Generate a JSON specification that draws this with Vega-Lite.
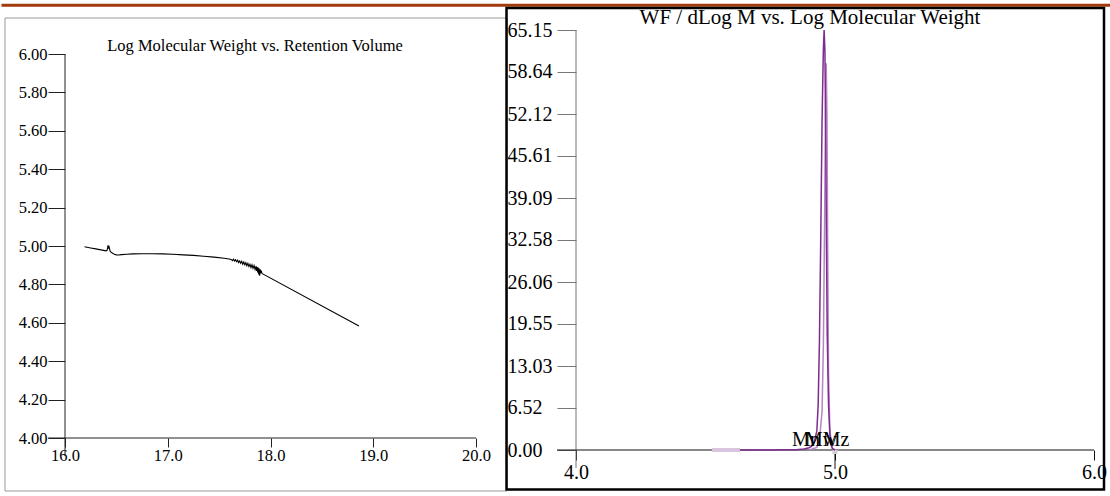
{
  "$schema": "https://vega.github.io/schema/vega-lite/v6.json",
  "background": "#ffffff",
  "padding": {"left": 0, "top": 3, "right": 0, "bottom": 0},
  "autosize": {"type": "pad"},
  "bounds": "flush",
  "spacing": 100,
  "config": {
    "view": {"stroke": null},
    "font": "Liberation Serif",
    "axis": {"grid": false, "domain": false, "labelFlush": false, "labelFont": "Liberation Serif", "labelColor": "#000000", "tickWidth": 1}
  },
  "datasets": {
    "calibration": [
      {"rv": 16.19, "logM": 4.996}, {"rv": 16.25, "logM": 4.990}, {"rv": 16.30, "logM": 4.985},
      {"rv": 16.35, "logM": 4.980}, {"rv": 16.40, "logM": 4.975}, {"rv": 16.41, "logM": 4.978},
      {"rv": 16.415, "logM": 4.992}, {"rv": 16.42, "logM": 5.004}, {"rv": 16.425, "logM": 4.986},
      {"rv": 16.43, "logM": 4.994}, {"rv": 16.44, "logM": 4.972}, {"rv": 16.46, "logM": 4.963},
      {"rv": 16.48, "logM": 4.957}, {"rv": 16.50, "logM": 4.954}, {"rv": 16.52, "logM": 4.953},
      {"rv": 16.55, "logM": 4.955}, {"rv": 16.60, "logM": 4.957}, {"rv": 16.66, "logM": 4.959},
      {"rv": 16.75, "logM": 4.960}, {"rv": 16.85, "logM": 4.960}, {"rv": 16.95, "logM": 4.959},
      {"rv": 17.05, "logM": 4.957}, {"rv": 17.15, "logM": 4.954}, {"rv": 17.25, "logM": 4.951},
      {"rv": 17.35, "logM": 4.947}, {"rv": 17.45, "logM": 4.942}, {"rv": 17.55, "logM": 4.936},
      {"rv": 17.61, "logM": 4.931}, {"rv": 17.62, "logM": 4.929}, {"rv": 17.63, "logM": 4.924},
      {"rv": 17.64, "logM": 4.931}, {"rv": 17.65, "logM": 4.922}, {"rv": 17.66, "logM": 4.928},
      {"rv": 17.67, "logM": 4.918}, {"rv": 17.68, "logM": 4.926}, {"rv": 17.69, "logM": 4.914},
      {"rv": 17.70, "logM": 4.922}, {"rv": 17.71, "logM": 4.910}, {"rv": 17.72, "logM": 4.920},
      {"rv": 17.73, "logM": 4.905}, {"rv": 17.74, "logM": 4.917}, {"rv": 17.75, "logM": 4.902},
      {"rv": 17.76, "logM": 4.913}, {"rv": 17.77, "logM": 4.897}, {"rv": 17.78, "logM": 4.910},
      {"rv": 17.79, "logM": 4.893}, {"rv": 17.80, "logM": 4.905}, {"rv": 17.81, "logM": 4.888},
      {"rv": 17.82, "logM": 4.902}, {"rv": 17.83, "logM": 4.884}, {"rv": 17.84, "logM": 4.898},
      {"rv": 17.85, "logM": 4.878}, {"rv": 17.86, "logM": 4.895}, {"rv": 17.865, "logM": 4.870},
      {"rv": 17.87, "logM": 4.890}, {"rv": 17.875, "logM": 4.862}, {"rv": 17.88, "logM": 4.888},
      {"rv": 17.885, "logM": 4.852}, {"rv": 17.89, "logM": 4.882}, {"rv": 17.895, "logM": 4.845},
      {"rv": 17.90, "logM": 4.878}, {"rv": 17.905, "logM": 4.858}, {"rv": 17.91, "logM": 4.872},
      {"rv": 17.915, "logM": 4.860}, {"rv": 17.92, "logM": 4.856}, {"rv": 18.861, "logM": 4.583}
    ],
    "distribution": [
      {"trace": "b", "logM": 4.90, "wf": 0}, {"trace": "b", "logM": 4.93, "wf": 0.4},
      {"trace": "b", "logM": 4.94, "wf": 1.5}, {"trace": "b", "logM": 4.95, "wf": 6},
      {"trace": "b", "logM": 4.955, "wf": 16}, {"trace": "b", "logM": 4.96, "wf": 36},
      {"trace": "b", "logM": 4.963, "wf": 52}, {"trace": "b", "logM": 4.966, "wf": 60},
      {"trace": "b", "logM": 4.969, "wf": 52}, {"trace": "b", "logM": 4.972, "wf": 30},
      {"trace": "b", "logM": 4.975, "wf": 12}, {"trace": "b", "logM": 4.98, "wf": 3.5},
      {"trace": "b", "logM": 4.985, "wf": 1}, {"trace": "b", "logM": 4.99, "wf": 0.3},
      {"trace": "b", "logM": 5.0, "wf": 0},
      {"trace": "a", "logM": 4.633, "wf": 0}, {"trace": "a", "logM": 4.75, "wf": 0},
      {"trace": "a", "logM": 4.80, "wf": 0.02}, {"trace": "a", "logM": 4.85, "wf": 0.05},
      {"trace": "a", "logM": 4.88, "wf": 0.15}, {"trace": "a", "logM": 4.90, "wf": 0.35},
      {"trace": "a", "logM": 4.91, "wf": 0.6}, {"trace": "a", "logM": 4.92, "wf": 1.2},
      {"trace": "a", "logM": 4.93, "wf": 3}, {"trace": "a", "logM": 4.935, "wf": 7},
      {"trace": "a", "logM": 4.94, "wf": 17}, {"trace": "a", "logM": 4.945, "wf": 33},
      {"trace": "a", "logM": 4.95, "wf": 51}, {"trace": "a", "logM": 4.955, "wf": 62},
      {"trace": "a", "logM": 4.958, "wf": 65.15}, {"trace": "a", "logM": 4.961, "wf": 62},
      {"trace": "a", "logM": 4.964, "wf": 50}, {"trace": "a", "logM": 4.967, "wf": 32},
      {"trace": "a", "logM": 4.97, "wf": 18}, {"trace": "a", "logM": 4.975, "wf": 7},
      {"trace": "a", "logM": 4.98, "wf": 2.5}, {"trace": "a", "logM": 4.985, "wf": 0.8},
      {"trace": "a", "logM": 4.99, "wf": 0.2}, {"trace": "a", "logM": 5.0, "wf": 0}
    ],
    "averages": [
      {"label": "Mn", "logM": 4.888},
      {"label": "Mw", "logM": 4.946},
      {"label": "Mz", "logM": 5.004}
    ]
  },
  "hconcat": [
    {
      "width": 411,
      "height": 408,
      "layer": [
        {
          "data": {"values": [{}]},
          "mark": {"type": "rect", "filled": false, "stroke": "#9a9a9a", "strokeWidth": 1, "clip": false},
          "encoding": {
            "x": {"datum": 15.416}, "x2": {"datum": 20.3017},
            "y": {"datum": 6.1875}, "y2": {"datum": 3.724}
          }
        },
        {
          "data": {"values": [{}]},
          "mark": {"type": "rule", "stroke": "#A23A0C", "strokeWidth": 3, "clip": false},
          "encoding": {
            "x": {"datum": 15.382}, "x2": {"datum": 20.3017},
            "y": {"datum": 6.2542}
          }
        },
        {
          "data": {"values": [{}]},
          "mark": {"type": "rule", "stroke": "#222222", "strokeWidth": 1, "clip": false},
          "encoding": {
            "x": {"datum": 16},
            "y": {"datum": 6}, "y2": {"datum": 3.906}
          }
        },
        {
          "data": {"values": [{}]},
          "mark": {"type": "rule", "stroke": "#222222", "strokeWidth": 1, "clip": false},
          "encoding": {
            "x": {"datum": 15.8345}, "x2": {"datum": 20},
            "y": {"datum": 4}
          }
        },
        {
          "data": {"values": [{"title": "Log Molecular Weight vs. Retention Volume"}]},
          "mark": {"type": "text", "font": "Liberation Serif", "fontSize": 16.5, "color": "#000000", "align": "center", "baseline": "alphabetic", "clip": false},
          "encoding": {
            "x": {"datum": 17.849},
            "y": {"datum": 6.0156},
            "text": {"field": "title"}
          }
        },
        {
          "data": {"name": "calibration"},
          "mark": {"type": "line", "stroke": "#000000", "strokeWidth": 1.1, "clip": false},
          "encoding": {
            "x": {
              "field": "rv", "type": "quantitative",
              "scale": {"domain": [16, 20], "nice": false, "zero": false},
              "axis": {"title": null, "values": [16, 17, 18, 19, 20], "format": ".1f", "tickSize": 9, "tickColor": "#222222", "labelPadding": 0, "labelFontSize": 16.5, "labelFont": "Liberation Serif"}
            },
            "y": {
              "field": "logM", "type": "quantitative",
              "scale": {"domain": [4, 6.125], "nice": false, "zero": false},
              "axis": {"title": null, "values": [4, 4.2, 4.4, 4.6, 4.8, 5, 5.2, 5.4, 5.6, 5.8, 6], "format": ".2f", "tickSize": 17, "tickColor": "#222222", "labelPadding": 1, "labelFontSize": 16.5, "labelFont": "Liberation Serif"}
            }
          }
        }
      ]
    },
    {
      "width": 518,
      "height": 420,
      "layer": [
        {
          "data": {"values": [{}]},
          "mark": {"type": "rule", "stroke": "#A23A0C", "strokeWidth": 3, "clip": false},
          "encoding": {
            "x": {"datum": 3.7336}, "x2": {"datum": 6.0618},
            "y": {"datum": 68.998}
          }
        },
        {
          "data": {"values": [{}]},
          "mark": {"type": "rect", "filled": false, "stroke": "#000000", "strokeWidth": 2.5, "clip": false},
          "encoding": {
            "x": {"datum": 3.7317}, "x2": {"datum": 6.0386},
            "y": {"datum": 68.56}, "y2": {"datum": -6.127}
          }
        },
        {
          "data": {"values": [{}]},
          "mark": {"type": "rule", "stroke": "#777777", "strokeWidth": 1, "clip": false},
          "encoding": {
            "x": {"datum": 4},
            "y": {"datum": 65.15}, "y2": {"datum": -2.792}
          }
        },
        {
          "data": {"values": [{}]},
          "mark": {"type": "rule", "stroke": "#111111", "strokeWidth": 1, "clip": false},
          "encoding": {
            "x": {"datum": 3.9266}, "x2": {"datum": 6},
            "y": {"datum": 0}
          }
        },
        {
          "data": {"values": [{}]},
          "mark": {"type": "rule", "stroke": "#111111", "strokeWidth": 1, "clip": false},
          "encoding": {
            "x": {"datum": 5.0},
            "y": {"datum": 0}, "y2": {"datum": -2.947}
          }
        },
        {
          "data": {"values": [{}]},
          "mark": {"type": "rule", "stroke": "#d9c5dd", "strokeWidth": 4, "clip": false},
          "encoding": {
            "x": {"datum": 4.525}, "x2": {"datum": 4.633},
            "y": {"datum": 0}
          }
        },
        {
          "data": {"values": [{}]},
          "mark": {"type": "rule", "stroke": "#d6ced9", "strokeWidth": 4, "clip": false},
          "encoding": {
            "x": {"datum": 4.99}, "x2": {"datum": 5.01},
            "y": {"datum": -0.31}
          }
        },
        {
          "data": {"values": [{"title": "WF / dLog M vs. Log Molecular Weight"}]},
          "mark": {"type": "text", "font": "Liberation Serif", "fontSize": 21, "color": "#000000", "align": "center", "baseline": "alphabetic", "clip": false},
          "encoding": {
            "x": {"datum": 4.9035},
            "y": {"datum": 66.08},
            "text": {"field": "title"}
          }
        },
        {
          "data": {"name": "distribution"},
          "mark": {"type": "line", "strokeWidth": 1.5, "clip": false},
          "encoding": {
            "x": {
              "field": "logM", "type": "quantitative",
              "scale": {"domain": [4, 6], "nice": false, "zero": false},
              "axis": {"title": null, "values": [4, 5, 6], "format": ".1f", "tickSize": 10, "tickColor": "#111111", "labelPadding": 2, "labelFontSize": 20, "labelFont": "Liberation Serif"}
            },
            "y": {
              "field": "wf", "type": "quantitative",
              "scale": {"domain": [0, 65.15], "nice": false, "zero": false},
              "axis": {"title": null, "values": [0, 6.52, 13.03, 19.55, 26.06, 32.58, 39.09, 45.61, 52.12, 58.64, 65.15], "format": ".2f", "tickSize": 19, "tickColor": "#777777", "labelAlign": "left", "labelPadding": 50, "labelFontSize": 20, "labelFont": "Liberation Serif"}
            },
            "color": {"field": "trace", "type": "nominal", "scale": {"domain": ["b", "a"], "range": ["#B586C6", "#7E2C8E"]}, "legend": null},
            "order": {"field": "logM", "type": "quantitative"}
          }
        },
        {
          "data": {"name": "averages"},
          "mark": {"type": "text", "font": "Liberation Serif", "fontSize": 20, "color": "#000000", "align": "center", "baseline": "alphabetic", "clip": false},
          "encoding": {
            "x": {"field": "logM", "type": "quantitative"},
            "y": {"datum": 0.55},
            "text": {"field": "label"}
          }
        }
      ]
    }
  ]
}
